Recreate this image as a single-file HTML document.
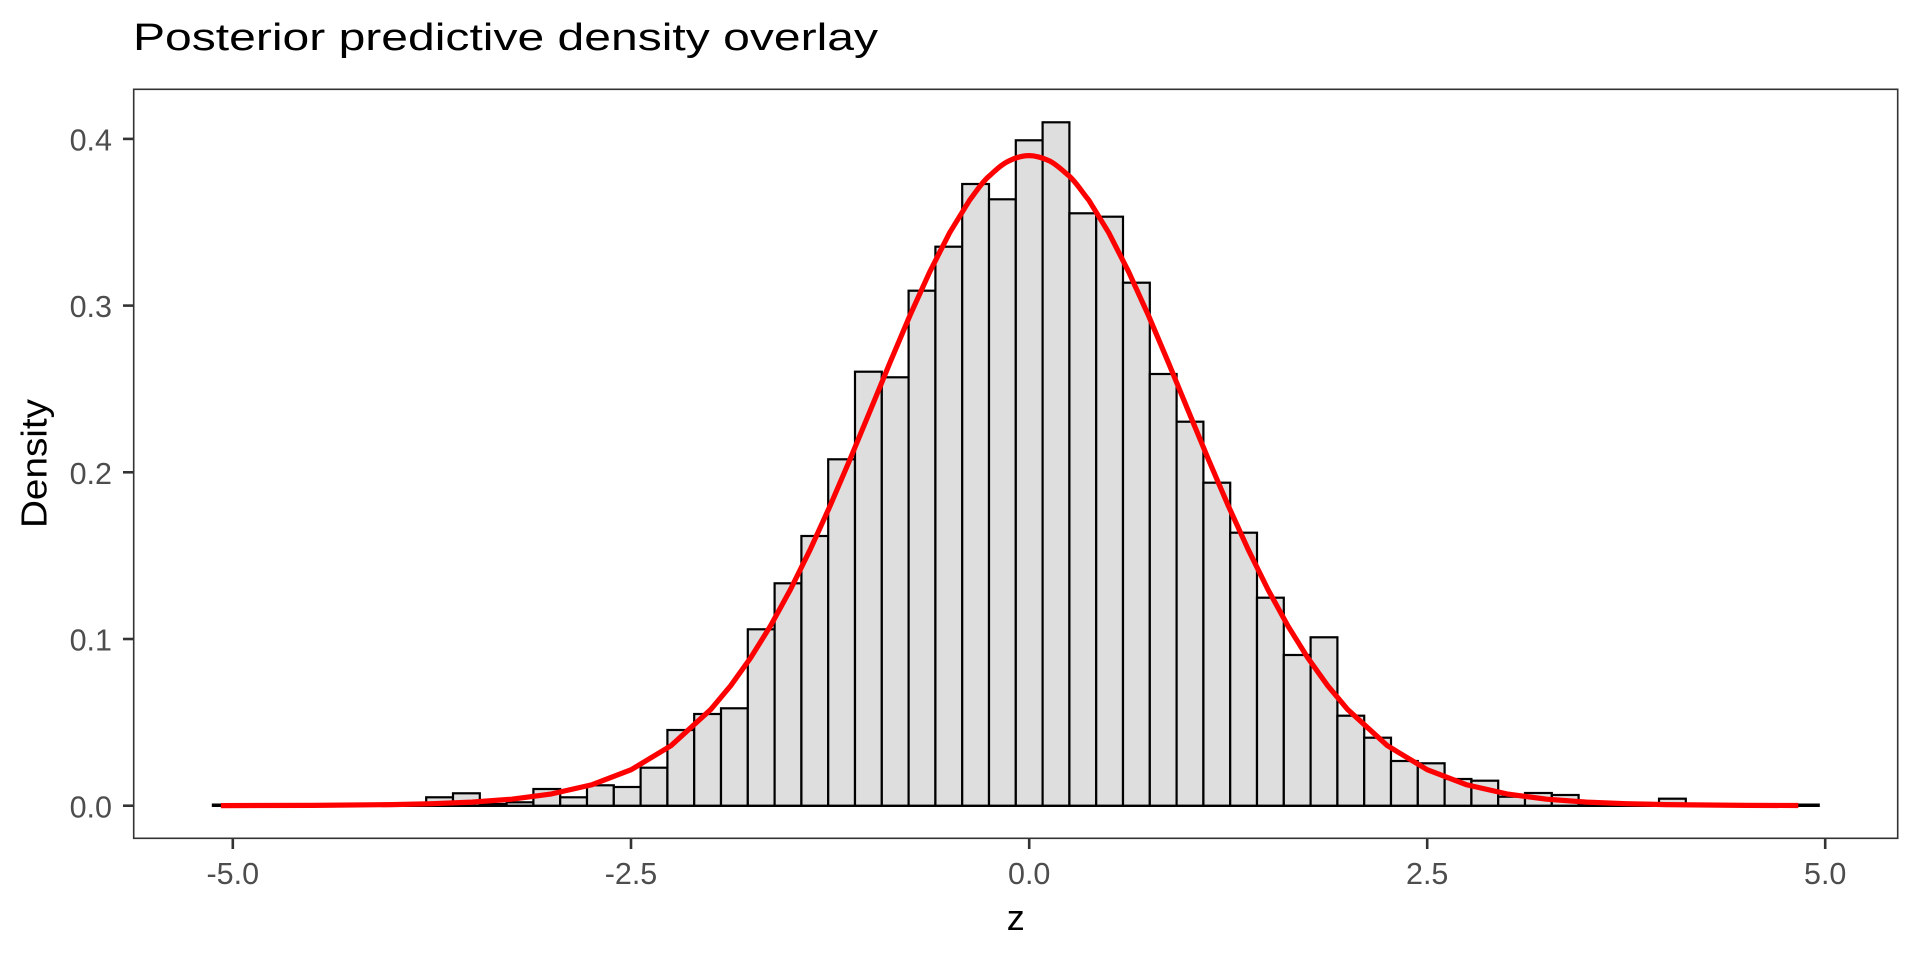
<!DOCTYPE html>
<html>
<head>
<meta charset="utf-8">
<style>
  html, body { margin: 0; padding: 0; background: #ffffff; }
  svg { display: block; }
  text { font-family: "Liberation Sans", "DejaVu Sans", sans-serif; }
</style>
</head>
<body>
<svg width="1920" height="960" viewBox="0 0 1920 960" xmlns="http://www.w3.org/2000/svg">
  <rect x="0" y="0" width="1920" height="960" fill="#ffffff"/>

  <!-- Title -->
  <text x="133" y="50" font-size="38" fill="#000000" textLength="745" lengthAdjust="spacingAndGlyphs">Posterior predictive density overlay</text>

  <!-- zero-height bins baseline -->
  <line x1="211.8" y1="805.2" x2="1819.8" y2="805.2" stroke="#000000" stroke-width="3.5"/>

  <!-- Histogram bars -->
  <g fill="#dedede" stroke="#000000" stroke-width="2.2">
    <rect x="426.2" y="797.3" width="26.8" height="8.4"/>
    <rect x="453.0" y="793.3" width="26.8" height="12.4"/>
    <rect x="479.8" y="804.0" width="26.8" height="1.7"/>
    <rect x="506.6" y="802.3" width="26.8" height="3.4"/>
    <rect x="533.4" y="789.0" width="26.8" height="16.7"/>
    <rect x="560.2" y="797.3" width="26.8" height="8.4"/>
    <rect x="587.0" y="785.3" width="26.8" height="20.4"/>
    <rect x="613.8" y="787.0" width="26.8" height="18.7"/>
    <rect x="640.6" y="767.7" width="26.8" height="38.0"/>
    <rect x="667.4" y="730.0" width="26.8" height="75.7"/>
    <rect x="694.2" y="714.0" width="26.8" height="91.7"/>
    <rect x="721.0" y="708.3" width="26.8" height="97.4"/>
    <rect x="747.8" y="629.3" width="26.8" height="176.4"/>
    <rect x="774.6" y="583.3" width="26.8" height="222.4"/>
    <rect x="801.4" y="536.0" width="26.8" height="269.7"/>
    <rect x="828.2" y="459.3" width="26.8" height="346.4"/>
    <rect x="855.0" y="371.7" width="26.8" height="434.0"/>
    <rect x="881.8" y="377.3" width="26.8" height="428.4"/>
    <rect x="908.6" y="290.7" width="26.8" height="515.0"/>
    <rect x="935.4" y="246.7" width="26.8" height="559.0"/>
    <rect x="962.2" y="184.0" width="26.8" height="621.7"/>
    <rect x="989.0" y="199.3" width="26.8" height="606.4"/>
    <rect x="1015.8" y="140.3" width="26.8" height="665.4"/>
    <rect x="1042.6" y="122.3" width="26.8" height="683.4"/>
    <rect x="1069.4" y="213.3" width="26.8" height="592.4"/>
    <rect x="1096.2" y="216.7" width="26.8" height="589.0"/>
    <rect x="1123.0" y="282.7" width="26.8" height="523.0"/>
    <rect x="1149.8" y="374.0" width="26.8" height="431.7"/>
    <rect x="1176.6" y="421.7" width="26.8" height="384.0"/>
    <rect x="1203.4" y="482.7" width="26.8" height="323.0"/>
    <rect x="1230.2" y="532.7" width="26.8" height="273.0"/>
    <rect x="1257.0" y="597.7" width="26.8" height="208.0"/>
    <rect x="1283.8" y="655.0" width="26.8" height="150.7"/>
    <rect x="1310.6" y="637.3" width="26.8" height="168.4"/>
    <rect x="1337.4" y="715.7" width="26.8" height="90.0"/>
    <rect x="1364.2" y="737.7" width="26.8" height="68.0"/>
    <rect x="1391.0" y="761.0" width="26.8" height="44.7"/>
    <rect x="1417.8" y="763.3" width="26.8" height="42.4"/>
    <rect x="1444.6" y="779.0" width="26.8" height="26.7"/>
    <rect x="1471.4" y="780.7" width="26.8" height="25.0"/>
    <rect x="1498.2" y="796.7" width="26.8" height="9.0"/>
    <rect x="1525.0" y="793.0" width="26.8" height="12.7"/>
    <rect x="1551.8" y="795.0" width="26.8" height="10.7"/>
    <rect x="1659.0" y="798.7" width="26.8" height="7.0"/>
  </g>

  <!-- Density curve (smoothed) -->
  <path fill="none" stroke="#ff0000" stroke-width="5.2" stroke-linejoin="round" stroke-linecap="butt"
    d="M220.9,805.6 L312.8,805.4 L392.4,804.6 L432.2,803.7 L472.0,802.1 L511.8,799.2 L551.6,793.9 L591.4,784.9 L631.2,769.7 L671.0,745.7 L710.8,709.4 L730.7,685.7 L750.6,657.9 L770.5,625.9 L790.4,589.6 L810.3,549.3 L830.2,505.6 L850.1,459.1 L870.0,411.1 L889.9,362.8 L909.8,315.8 L929.7,271.9 L949.6,232.8 L969.5,200.3 C976,192 982,182 989.4,175.9 C996,170 1002,164 1009.3,160.7 C1016,157.5 1022,155.6 1029.2,155.6 C1036,155.6 1042,157.5 1049.1,160.7 C1056,164 1062,170 1069.0,175.9 C1076,182 1082,192 1088.9,200.3 L1108.8,232.8 L1128.7,271.9 L1148.6,315.8 L1168.5,362.8 L1188.4,411.1 L1208.3,459.1 L1228.2,505.6 L1248.1,549.3 L1268.0,589.6 L1287.9,625.9 L1307.8,657.9 L1327.7,685.7 L1347.6,709.4 L1387.4,745.7 L1427.2,769.7 L1467.0,784.9 L1506.8,793.9 L1546.6,799.2 L1586.4,802.1 L1626.2,803.7 L1666.0,804.6 L1745.6,805.4 L1798.3,805.5"/>

  <!-- Panel border -->
  <rect x="133.7" y="89.3" width="1764" height="749" fill="none" stroke="#333333" stroke-width="1.6"/>

  <!-- Y ticks -->
  <g stroke="#333333" stroke-width="2.6">
    <line x1="123" y1="805.7" x2="133.7" y2="805.7"/>
    <line x1="123" y1="639.0" x2="133.7" y2="639.0"/>
    <line x1="123" y1="472.3" x2="133.7" y2="472.3"/>
    <line x1="123" y1="305.6" x2="133.7" y2="305.6"/>
    <line x1="123" y1="138.9" x2="133.7" y2="138.9"/>
  </g>
  <g font-size="30.5" fill="#4d4d4d" text-anchor="end">
    <text x="112" y="817.3">0.0</text>
    <text x="112" y="650.6">0.1</text>
    <text x="112" y="483.9">0.2</text>
    <text x="112" y="317.2">0.3</text>
    <text x="112" y="150.5">0.4</text>
  </g>

  <!-- X ticks -->
  <g stroke="#333333" stroke-width="2.6">
    <line x1="232.8" y1="838.3" x2="232.8" y2="849"/>
    <line x1="631.0" y1="838.3" x2="631.0" y2="849"/>
    <line x1="1029.2" y1="838.3" x2="1029.2" y2="849"/>
    <line x1="1427.2" y1="838.3" x2="1427.2" y2="849"/>
    <line x1="1825.2" y1="838.3" x2="1825.2" y2="849"/>
  </g>
  <g font-size="30.5" fill="#4d4d4d" text-anchor="middle">
    <text x="232.8" y="884">-5.0</text>
    <text x="631.0" y="884">-2.5</text>
    <text x="1029.2" y="884">0.0</text>
    <text x="1427.2" y="884">2.5</text>
    <text x="1825.2" y="884">5.0</text>
  </g>

  <!-- Axis titles -->
  <text x="1015.7" y="930" font-size="36" fill="#000000" text-anchor="middle">z</text>
  <text transform="translate(46.7,463.5) rotate(-90)" x="0" y="0" font-size="36" fill="#000000" text-anchor="middle" textLength="129" lengthAdjust="spacingAndGlyphs">Density</text>
</svg>
</body>
</html>
